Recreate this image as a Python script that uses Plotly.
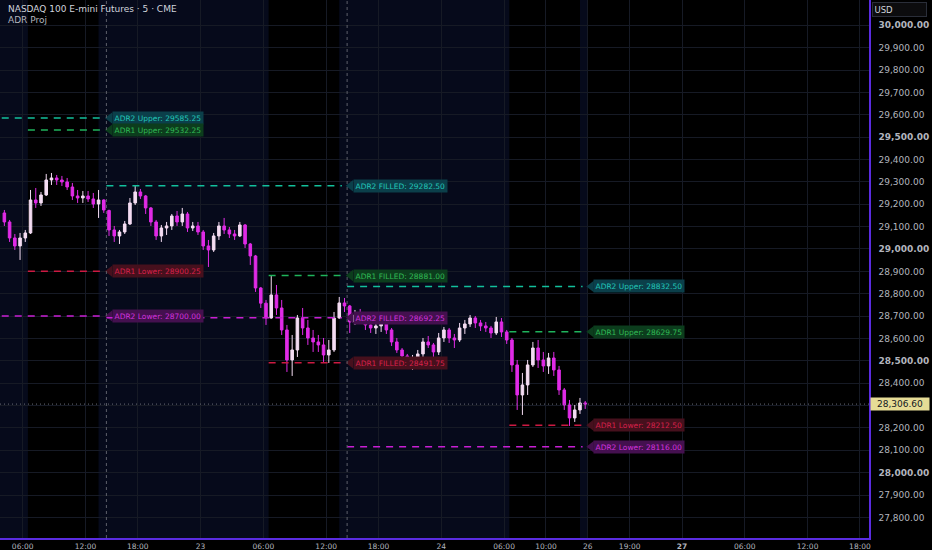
import pandas as pd
import plotly.graph_objects as go

# 30-minute candles (Pacific time)
session_starts = ["2026-04-22 04:00", "2026-04-22 15:00", "2026-04-23 15:00"]
session_bars = [20, 46, 46]

opens = [
    # Thu 22nd
    29161.0, 29120.8, 29049.2, 29013.5, 29049.2, 29071.6, 29219.1, 29205.7, 29241.5, 29308.5,
    29317.4, 29308.5, 29299.6, 29277.2, 29237.0, 29228.0, 29237.0, 29223.6, 29201.2, 29219.1,
    # 22nd 15:00 -> 23rd 14:00
    29172.0, 29085.0, 29058.2, 29076.1, 29111.8, 29205.7, 29254.9, 29237.0, 29183.4, 29120.8,
    29058.2, 29093.9, 29102.9, 29147.6, 29120.8, 29156.5, 29093.9, 29102.9, 29076.1, 29013.5,
    28995.6, 29058.2, 29102.9, 29085.0, 29067.1, 29058.2, 29107.3, 29022.4, 28968.8, 28825.7,
    28757.8, 28691.6, 28794.5, 28736.3, 28638.0, 28503.9, 28548.6, 28691.6, 28646.9, 28602.2,
    28584.4, 28571.0, 28526.2, 28548.6, 28691.6, 28758.7,
    # 23rd 15:00 -> 24th 14:00
    28745.3, 28673.8, 28705.0, 28691.6, 28660.4, 28646.9, 28655.9, 28664.8, 28638.0, 28584.4,
    28548.6, 28521.8, 28495.0, 28512.8, 28530.7, 28584.4, 28571.0, 28539.7, 28602.2, 28638.0,
    28602.2, 28593.3, 28646.9, 28664.8, 28691.6, 28669.3, 28655.9, 28646.9, 28624.6, 28673.8,
    28629.1, 28593.3, 28481.6, 28347.5, 28392.2, 28481.6, 28557.5, 28503.9, 28477.1, 28512.8,
    28459.2, 28369.8, 28302.8, 28244.6, 28280.4, 28311.7,
]
highs = [
    29174.4, 29129.7, 29067.1, 29071.6, 29085.0, 29263.8, 29272.7, 29254.9, 29335.4, 29339.8,
    29330.9, 29326.4, 29317.4, 29295.1, 29263.8, 29259.3, 29259.3, 29250.4, 29263.8, 29222.0,
    29176.0, 29102.9, 29085.0, 29125.2, 29228.0, 29281.7, 29268.3, 29241.5, 29187.8, 29129.7,
    29107.3, 29120.8, 29156.5, 29169.9, 29183.4, 29165.5, 29120.8, 29120.8, 29085.0, 29040.3,
    29071.6, 29120.8, 29138.7, 29098.4, 29085.0, 29120.8, 29111.8, 29026.9, 28973.3, 28830.2,
    28772.1, 28881.0, 28839.1, 28772.1, 28660.4, 28615.6, 28705.0, 28736.3, 28682.7, 28638.0,
    28615.6, 28602.2, 28593.3, 28718.4, 28785.5, 28781.0,
    28749.8, 28727.4, 28731.9, 28705.0, 28682.7, 28673.8, 28691.6, 28682.7, 28646.9, 28602.2,
    28557.5, 28530.7, 28526.2, 28548.6, 28602.2, 28611.1, 28579.9, 28624.6, 28651.4, 28646.9,
    28620.1, 28669.3, 28682.7, 28705.0, 28700.5, 28682.7, 28673.8, 28655.9, 28696.1, 28691.6,
    28638.0, 28602.2, 28503.9, 28445.8, 28503.9, 28584.4, 28593.3, 28539.7, 28535.2, 28539.7,
    28477.1, 28378.7, 28325.1, 28302.8, 28334.1, 28320.6,
]
lows = [
    29102.9, 29031.4, 28995.6, 28950.9, 29031.4, 29067.1, 29183.4, 29192.3, 29237.0, 29286.2,
    29286.2, 29281.7, 29263.8, 29219.1, 29205.7, 29205.7, 29210.2, 29183.4, 29138.7, 29161.0,
    29058.2, 29031.4, 29022.4, 29067.1, 29107.3, 29196.7, 29223.6, 29156.5, 29102.9, 29040.3,
    29031.4, 29062.7, 29085.0, 29102.9, 29102.9, 29076.1, 29080.5, 29062.7, 28995.6, 28919.6,
    28986.7, 29040.3, 29067.1, 29049.2, 29040.3, 29053.7, 29004.5, 28928.6, 28807.9, 28736.3,
    28660.4, 28688.0, 28705.0, 28615.6, 28450.3, 28432.4, 28517.3, 28615.6, 28571.0, 28539.7,
    28539.7, 28495.0, 28490.5, 28539.7, 28688.0, 28718.4,
    28624.6, 28660.4, 28673.8, 28638.0, 28624.6, 28620.1, 28629.1, 28620.1, 28566.5, 28535.2,
    28490.5, 28468.1, 28459.2, 28486.0, 28512.8, 28557.5, 28512.8, 28526.2, 28584.4, 28579.9,
    28557.5, 28584.4, 28620.1, 28651.4, 28646.9, 28633.5, 28629.1, 28602.2, 28615.6, 28606.7,
    28575.4, 28450.3, 28280.4, 28258.1, 28347.5, 28472.6, 28468.1, 28450.3, 28441.4, 28432.4,
    28347.5, 28280.4, 28208.9, 28226.8, 28262.6, 28284.9,
]
closes = [
    29120.8, 29049.2, 29013.5, 29049.2, 29071.6, 29219.1, 29205.7, 29241.5, 29308.5, 29317.4,
    29308.5, 29299.6, 29277.2, 29237.0, 29228.0, 29237.0, 29223.6, 29201.2, 29219.1, 29174.4,
    29085.0, 29058.2, 29076.1, 29111.8, 29205.7, 29254.9, 29237.0, 29183.4, 29120.8, 29058.2,
    29093.9, 29102.9, 29147.6, 29120.8, 29156.5, 29093.9, 29102.9, 29076.1, 29013.5, 28995.6,
    29058.2, 29102.9, 29085.0, 29067.1, 29058.2, 29107.3, 29022.4, 28968.8, 28825.7, 28757.8,
    28691.6, 28794.5, 28736.3, 28638.0, 28503.9, 28548.6, 28691.6, 28646.9, 28602.2, 28584.4,
    28571.0, 28526.2, 28548.6, 28691.6, 28758.7, 28745.3,
    28673.8, 28705.0, 28691.6, 28660.4, 28646.9, 28655.9, 28664.8, 28638.0, 28584.4, 28548.6,
    28521.8, 28495.0, 28512.8, 28530.7, 28584.4, 28571.0, 28539.7, 28602.2, 28638.0, 28602.2,
    28593.3, 28646.9, 28664.8, 28691.6, 28669.3, 28655.9, 28646.9, 28624.6, 28673.8, 28629.1,
    28593.3, 28481.6, 28347.5, 28392.2, 28481.6, 28557.5, 28503.9, 28477.1, 28512.8, 28459.2,
    28369.8, 28302.8, 28244.6, 28280.4, 28311.7, 28306.6,
]

# ADR projection levels
level_names = ["ADR2 Upper", "ADR1 Upper", "ADR1 Lower", "ADR2 Lower",
               "ADR2 FILLED", "ADR1 FILLED", "ADR2 FILLED", "ADR1 FILLED",
               "ADR2 Upper", "ADR1 Upper", "ADR1 Lower", "ADR2 Lower"]
level_values = [29585.25, 29532.25, 28900.25, 28700.00,
                29282.50, 28881.00, 28692.25, 28491.75,
                28832.50, 28629.75, 28212.50, 28116.00]
level_kinds = ["u2", "u1", "l1", "l2", "u2", "u1", "l2", "l1", "u2", "u1", "l1", "l2"]
level_start = ["2026-04-22 04:00", "2026-04-22 06:30", "2026-04-22 06:30", "2026-04-22 04:00",
               "2026-04-22 15:00", "2026-04-23 06:30", "2026-04-22 15:00", "2026-04-23 06:30",
               "2026-04-23 15:00", "2026-04-24 06:30", "2026-04-24 06:30", "2026-04-23 15:00"]
level_end = ["2026-04-22 13:30"] * 4 + ["2026-04-23 13:30"] * 4 + ["2026-04-24 13:30"] * 4
label_times = ["2026-04-22 15:20"] * 4 + ["2026-04-23 15:20"] * 4 + ["2026-04-26 15:20"] * 4

kind_colors = {  # line, label background, label text
    "u2": ("#13c09c", "#0b3f4a", "#22c6b8"),
    "u1": ("#1fb35c", "#0c3d1d", "#31bb55"),
    "l1": ("#cc1a42", "#46101d", "#d8214b"),
    "l2": ("#c81fd4", "#44104f", "#d233de"),
}

# regular trading hours are black, extended hours navy
eth_start = ["2026-04-22 03:50", "2026-04-22 13:15", "2026-04-23 13:15", "2026-04-24 13:15"]
eth_end = ["2026-04-22 06:30", "2026-04-23 06:30", "2026-04-24 06:30", "2026-04-24 14:00"]
session_lines = ["2026-04-22 15:00", "2026-04-23 15:00"]

x_tickvals = ["2026-04-22 06:00", "2026-04-22 12:00", "2026-04-22 18:00", "2026-04-23 00:00",
              "2026-04-23 06:00", "2026-04-23 12:00", "2026-04-23 18:00", "2026-04-24 00:00",
              "2026-04-24 06:00", "2026-04-24 10:00", "2026-04-26 15:00", "2026-04-26 19:00",
              "2026-04-27 00:00", "2026-04-27 06:00", "2026-04-27 12:00", "2026-04-27 18:00"]
x_ticktext = ["06:00", "12:00", "18:00", "23", "06:00", "12:00", "18:00", "24",
              "06:00", "10:00", "26", "19:00", "<b>27</b>", "06:00", "12:00", "18:00"]
y_tickvals = list(range(27800, 30001, 100))
x_window = ["2026-04-22 03:50", "2026-04-27 18:52"]

# the chart skips the daily 14:00-15:00 halt and the weekend close
closed = [(f"2026-04-{d:02d} 14:00", f"2026-04-{d:02d} 15:00") for d in range(22, 28)]
closed.append(("2026-04-24 14:00", "2026-04-26 15:00"))
closed = [(pd.Timestamp(a), pd.Timestamp(b)) for a, b in closed]
origin = pd.Timestamp(x_window[0])


def session_hours(t):
    """Trading hours elapsed since the left edge of the chart."""
    t = pd.Timestamp(t)
    h = (t - origin) / pd.Timedelta(hours=1)
    # merge overlapping closures so nothing is removed twice
    merged = []
    for a, b in sorted(closed):
        if merged and a <= merged[-1][1]:
            merged[-1] = (merged[-1][0], max(merged[-1][1], b))
        else:
            merged.append((a, b))
    for a, b in merged:
        lo, hi = max(a, origin), min(b, t)
        if hi > lo:
            h -= (hi - lo) / pd.Timedelta(hours=1)
    return h


last_price = closes[-1]

times = pd.DatetimeIndex([])
for start, n in zip(session_starts, session_bars):
    times = times.append(pd.date_range(start, periods=n, freq="30min"))
candle_x = [session_hours(t + pd.Timedelta(minutes=15)) for t in times]

fig = go.Figure()

for s, e in zip(eth_start, eth_end):
    fig.add_shape(type="rect", xref="x", yref="paper", x0=session_hours(s), x1=session_hours(e),
                  y0=0, y1=1, fillcolor="#060a1b", line_width=0, layer="below")

for t in session_lines:
    fig.add_shape(type="line", xref="x", yref="paper", x0=session_hours(t), x1=session_hours(t),
                  y0=0, y1=1, line=dict(color="#5d606b", width=1, dash="3px,3px"))

fig.add_trace(go.Candlestick(
    x=candle_x, open=opens, high=highs, low=lows, close=closes,
    increasing=dict(line=dict(color="#f4dcf2", width=1), fillcolor="#f4dcf2"),
    decreasing=dict(line=dict(color="#e02be6", width=1), fillcolor="#e02be6"),
    whiskerwidth=0, showlegend=False, hoverinfo="skip",
))

for name, val, kind, t0, t1, tl in zip(level_names, level_values, level_kinds,
                                       level_start, level_end, label_times):
    line_c, bg_c, txt_c = kind_colors[kind]
    fig.add_trace(go.Scatter(
        x=[session_hours(t0), session_hours(t1)], y=[val, val], mode="lines",
        line=dict(color=line_c, width=1.5, dash="7px,6px"),
        showlegend=False, hoverinfo="skip",
    ))
    fig.add_trace(go.Scatter(
        x=[session_hours(tl)], y=[val], mode="markers",
        marker=dict(symbol="triangle-left", size=10, color=bg_c),
        showlegend=False, hoverinfo="skip",
    ))
    fig.add_annotation(
        x=session_hours(tl), y=val, text=f"{name}: {val:.2f}", showarrow=False,
        xanchor="left", yanchor="middle", xshift=2,
        font=dict(family="DejaVu Sans", size=7.5, color=txt_c),
        bgcolor=bg_c, borderpad=1.5,
    )

fig.add_shape(type="line", xref="paper", yref="y", x0=0, x1=1, y0=last_price, y1=last_price,
              line=dict(color="#6a6d78", width=1, dash="1px,3px"))

fig.add_annotation(xref="paper", yref="y", x=1, y=last_price, text=f"{last_price:,.2f}",
                   showarrow=False, xanchor="left", yanchor="middle", xshift=1,
                   font=dict(family="DejaVu Sans", size=9, color="#131722"),
                   bgcolor="#e6dc96", borderpad=1, width=56, align="center")

fig.add_annotation(xref="paper", yref="paper", x=1, y=1, text="USD", showarrow=False,
                   xanchor="left", yanchor="top", xshift=3, yshift=-2,
                   font=dict(family="DejaVu Sans", size=8.5, color="#d1d4dc"),
                   bgcolor="#0c0c0e", bordercolor="#2a2e39", borderwidth=1,
                   borderpad=1.5, width=50, align="left")

fig.add_annotation(xref="paper", yref="paper", x=0, y=1, xshift=6, yshift=-2,
                   text="NASDAQ 100 E-mini Futures · 5 · CME", showarrow=False,
                   xanchor="left", yanchor="top",
                   font=dict(family="DejaVu Sans", size=9, color="#d1d4dc"))
fig.add_annotation(xref="paper", yref="paper", x=0, y=1, xshift=6, yshift=-13,
                   text="ADR Proj", showarrow=False, xanchor="left", yanchor="top",
                   font=dict(family="DejaVu Sans", size=9, color="#b2b5be"))

y_ticktext = [f"<b>{v:,.2f}</b>" if v % 500 == 0 else f"{v:,.2f}" for v in y_tickvals]

fig.update_layout(
    width=932, height=550,
    margin=dict(l=0, r=63, t=0, b=12),
    paper_bgcolor="#000000", plot_bgcolor="#000000",
    font=dict(family="DejaVu Sans", size=8.5, color="#b2b5be"),
    showlegend=False,
    xaxis=dict(
        range=[session_hours(x_window[0]), session_hours(x_window[1])],
        rangeslider=dict(visible=False),
        tickvals=[session_hours(t) for t in x_tickvals], ticktext=x_ticktext,
        showgrid=True, gridcolor="#161a25", gridwidth=1,
        showline=True, linecolor="#5a2ce0", linewidth=1.5,
        ticks="", ticklabelstandoff=0, automargin=False, zeroline=False,
        tickfont=dict(family="DejaVu Sans", size=7.5, color="#b2b5be"),
    ),
    yaxis=dict(
        side="right",
        range=[27708, 30113],
        tickvals=y_tickvals, ticktext=y_ticktext,
        showgrid=True, gridcolor="#161a25", gridwidth=1,
        showline=True, linecolor="#5a2ce0", linewidth=1.5,
        ticks="", ticklabelstandoff=6, automargin=False, zeroline=False,
        tickfont=dict(family="DejaVu Sans", size=9, color="#b2b5be"),
    ),
)

fig.write_html("out.html", config={"displayModeBar": False},
               post_script="document.body.style.margin='0';document.body.style.background='#000';")
